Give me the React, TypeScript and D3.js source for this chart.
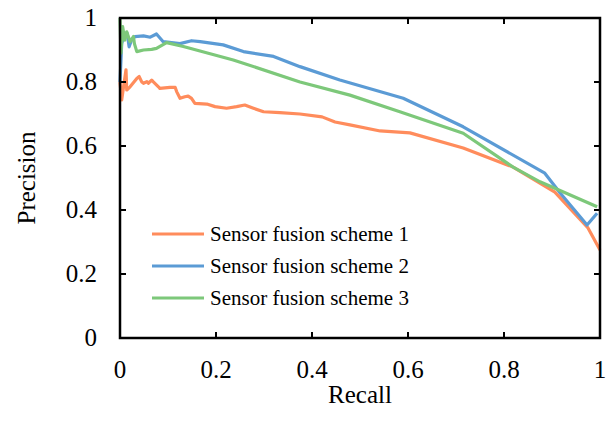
import * as d3 from 'd3';

// recall / precision readings for each scheme
const scheme1: [number, number][] = [
	[0, 0.80], [0.0035, 0.744], [0.0125, 0.838], [0.014, 0.775], [0.021, 0.785],
	[0.035, 0.811], [0.04, 0.817], [0.045, 0.801], [0.049, 0.796], [0.056, 0.801],
	[0.059, 0.796], [0.066, 0.806], [0.069, 0.801], [0.08, 0.785], [0.083, 0.78],
	[0.104, 0.783], [0.115, 0.783], [0.118, 0.77], [0.125, 0.749], [0.135, 0.754],
	[0.142, 0.756], [0.149, 0.749], [0.156, 0.733], [0.181, 0.731], [0.198, 0.723],
	[0.222, 0.718], [0.243, 0.723], [0.26, 0.728], [0.278, 0.718], [0.299, 0.707],
	[0.333, 0.704], [0.375, 0.7], [0.421, 0.691], [0.448, 0.675], [0.479, 0.666],
	[0.542, 0.647], [0.604, 0.641], [0.715, 0.594], [0.819, 0.534], [0.906, 0.456],
	[0.975, 0.344], [1.0, 0.275],
];
const scheme2: [number, number][] = [
	[0, 0.80], [0.0035, 0.92], [0.01, 0.952], [0.015, 0.952], [0.019, 0.91],
	[0.024, 0.931], [0.031, 0.942], [0.049, 0.944], [0.063, 0.94], [0.076, 0.95],
	[0.09, 0.926], [0.125, 0.92], [0.149, 0.929], [0.167, 0.926], [0.215, 0.916],
	[0.257, 0.895], [0.32, 0.88], [0.375, 0.848], [0.458, 0.806], [0.59, 0.749],
	[0.715, 0.66], [0.885, 0.515], [0.917, 0.453], [0.973, 0.353], [0.994, 0.39],
];
const scheme3: [number, number][] = [
	[0, 1.0], [0.002, 0.89], [0.0055, 0.973], [0.01, 0.931], [0.014, 0.957],
	[0.021, 0.926], [0.028, 0.942], [0.03, 0.92], [0.035, 0.895], [0.049, 0.9],
	[0.066, 0.902], [0.076, 0.905], [0.097, 0.923], [0.132, 0.911], [0.236, 0.869],
	[0.375, 0.8], [0.479, 0.759], [0.583, 0.707], [0.715, 0.64], [0.819, 0.534],
	[0.875, 0.488], [0.994, 0.41],
];

const seriesNames = ['Sensor fusion scheme 1', 'Sensor fusion scheme 2', 'Sensor fusion scheme 3'];
const seriesColors = ['#FF8C5C', '#5B9BD5', '#7DC87A'];
const tickValues = [0, 0.2, 0.4, 0.6, 0.8, 1];
const tickLabels = ['0', '0.2', '0.4', '0.6', '0.8', '1'];

const App = () => {
	const margin = { top: 18, right: 9, bottom: 84, left: 120 };
	const width = 609, height = 422;
	const innerW = width - margin.left - margin.right;
	const innerH = height - margin.top - margin.bottom;

	const x = d3.scaleLinear().domain([0, 1]).range([0, innerW]);
	const y = d3.scaleLinear().domain([0, 1]).range([innerH, 0]);
	const line = d3.line<[number, number]>().x((d) => x(d[0])).y((d) => y(d[1]));
	const allSeries = [scheme1, scheme2, scheme3];
	const font = { fontFamily: 'Liberation Serif, Times New Roman, serif' };
	const tick = 6;

	return (
		<svg width={width} height={height} style={{ position: 'absolute', left: 0, top: 0 }}>
			<g transform={`translate(${margin.left},${margin.top})`}>
				{allSeries.map((s, i) => (
					<path key={i} d={line(s) || ''} fill='none' stroke={seriesColors[i]}
						strokeWidth={3.2} strokeLinejoin='round' />
				))}
				{/* frame with inward ticks on all four sides */}
				<rect x={0} y={0} width={innerW} height={innerH} fill='none' stroke='#000' strokeWidth={2.5} />
				{tickValues.map((t, i) => (
					<g key={'t' + i} stroke='#000' strokeWidth={2}>
						<line x1={x(t)} x2={x(t)} y1={innerH} y2={innerH - tick} />
						<line x1={x(t)} x2={x(t)} y1={0} y2={tick} />
						<line x1={0} x2={tick} y1={y(t)} y2={y(t)} />
						<line x1={innerW} x2={innerW - tick} y1={y(t)} y2={y(t)} />
					</g>
				))}
				{tickValues.map((t, i) => (
					<text key={'xl' + i} x={x(t)} y={innerH + 40} textAnchor='middle'
						style={font} fontSize={25}>{tickLabels[i]}</text>
				))}
				{tickValues.map((t, i) => (
					<text key={'yl' + i} x={-23} y={y(t)} dy='0.33em' textAnchor='end'
						style={font} fontSize={25}>{tickLabels[i]}</text>
				))}
				<text x={innerW / 2} y={innerH + 65} textAnchor='middle' style={font} fontSize={25}>Recall</text>
				<text transform={`translate(${-85},${innerH / 2}) rotate(-90)`} textAnchor='middle'
					style={font} fontSize={25}>Precision</text>
				{seriesNames.map((n, i) => (
					<g key={'lg' + i} transform={`translate(32,${216 + i * 32})`}>
						<line x1={0} x2={52} y1={0} y2={0} stroke={seriesColors[i]} strokeWidth={3.2} />
						<text x={58} y={0} dy='0.33em' style={font} fontSize={21}>{n}</text>
					</g>
				))}
			</g>
		</svg>
	);
};

export default App;
